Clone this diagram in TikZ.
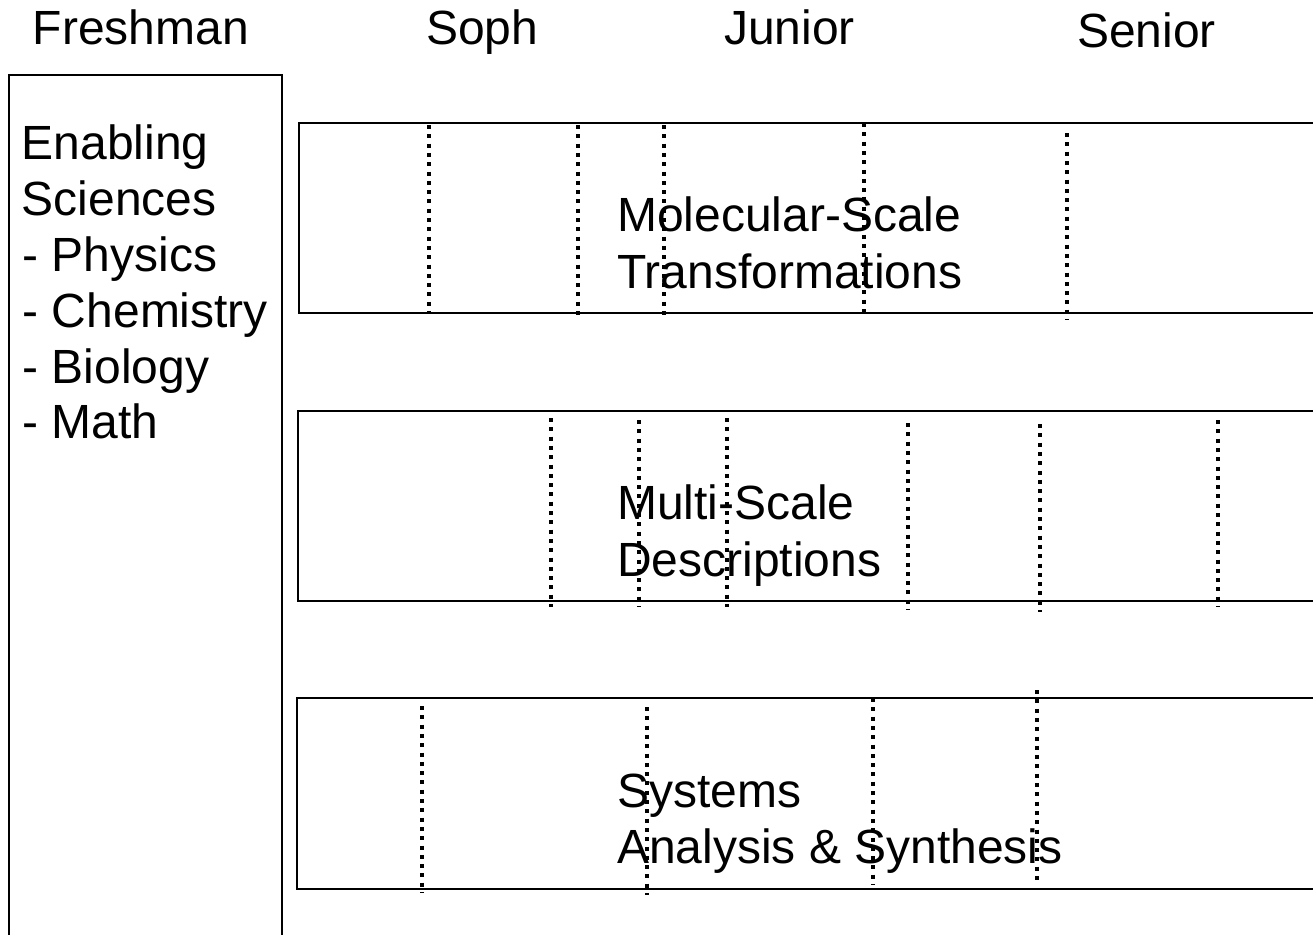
\documentclass[tikz,border=0pt]{standalone}
\usepackage{fontspec}
\setmainfont{Liberation Sans}
\begin{document}
\begin{tikzpicture}[x=1pt,y=-1pt,
  lbl/.style={anchor=base west,inner sep=0pt,font=\fontsize{48}{56}\selectfont,align=left},
  band/.style={draw=black,line width=2pt},
  leftbox/.style={draw=black,line width=1.6pt},
  dots/.style={draw=black,line width=4pt,dash pattern=on 4pt off 5.3pt,line cap=butt}]
\useasboundingbox (0,0) rectangle (1313,934);
\fill[white] (0,0) rectangle (1313,934);
% headers
\node[lbl] (fresh) at (32.5,45) {Freshman};
\node[lbl] (soph) at (426,45) {Soph};
\node[lbl] (jun) at (724,45) {Junior};
\node[lbl] (sen) at (1077,47.5) {Senior};
% left box
\draw[leftbox] (9,940) -- (9,75) -- (282,75) -- (282,940);
\node[lbl] (en1) at (21.5,159) {Enabling};
\node[lbl] (en2) at (21.5,215) {Sciences};
\node[lbl] (en3) at (22.5,271) {- Physics};
\node[lbl] (en4) at (22.5,327) {- Chemistry};
\node[lbl] (en5) at (22.5,383) {- Biology};
\node[lbl] (en6) at (22.5,438) {- Math};
% bands
\draw[band] (1320,123) -- (299,123) -- (299,313) -- (1320,313);
\draw[band] (1320,411) -- (298,411) -- (298,601) -- (1320,601);
\draw[band] (1320,698) -- (297,698) -- (297,889) -- (1320,889);
% dotted lines band 1
\draw[dots] (429,125) -- (429,314);
\draw[dots] (578,125) -- (578,315);
\draw[dots] (664,125) -- (664,316);
\draw[dots] (864,123) -- (864,312);
\draw[dots] (1067,133) -- (1067,320);
% dotted lines band 2
\draw[dots] (551,418) -- (551,607);
\draw[dots] (639,420) -- (639,607);
\draw[dots] (727,418) -- (727,607);
\draw[dots] (908,423) -- (908,610);
\draw[dots] (1040,424) -- (1040,612);
\draw[dots] (1218,420) -- (1218,607);
% dotted lines band 3
\draw[dots] (422,706) -- (422,893);
\draw[dots] (647,707) -- (647,895);
\draw[dots] (873,698) -- (873,885);
\draw[dots] (1037,690) -- (1037,880);
% band texts
\node[lbl] (mol1) at (617,231) {Molecular-Scale};
\node[lbl] (mol2) at (617,288) {Transformations};
\node[lbl] (mul1) at (617,519) {Multi-Scale};
\node[lbl] (mul2) at (617,576) {Descriptions};
\node[lbl] (sys1) at (617,807) {Systems};
\node[lbl] (sys2) at (617,863) {Analysis \& Synthesis};
\end{tikzpicture}
\end{document}
